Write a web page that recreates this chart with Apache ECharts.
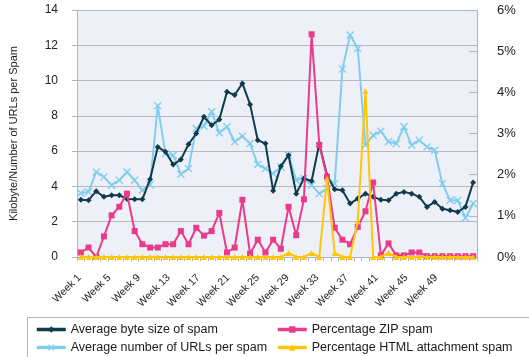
<!DOCTYPE html>
<html>
<head>
<meta charset="utf-8">
<script src="https://cdn.jsdelivr.net/npm/echarts@6/dist/echarts.min.js"></script>
<style>html,body{margin:0;padding:0;background:#fff;}#c{width:529px;height:357px;}</style>
</head>
<body>
<div id="c"></div>
<script>
var weeks = [];
for (var w = 1; w <= 52; w++) weeks.push('Week ' + w);

var leftTicks = [0, 2, 4, 6, 8, 10, 12, 14];
var rightTicks = ['0%', '1%', '2%', '3%', '4%', '5%', '6%'];

var avgByteSize = [3.25,3.22,3.73,3.41,3.5,3.5,3.29,3.27,3.27,4.41,
  6.24,5.96,5.24,5.52,6.39,7.0,7.95,7.47,7.79,9.36,
  9.18,9.84,8.65,6.62,6.43,3.75,5.15,5.77,3.59,4.45,
  4.31,6.43,4.63,3.84,3.78,3.03,3.31,3.59,3.41,3.25,
  3.22,3.59,3.69,3.59,3.41,2.84,3.12,2.74,2.65,2.55,2.84,4.22];

var avgUrls = [3.63,3.69,4.82,4.54,4.07,4.35,4.82,4.35,3.78,4.1,
  8.57,5.86,5.77,4.69,5.01,7.28,7.42,8.23,7.04,7.38,
  6.53,6.85,6.43,5.24,5.01,4.73,5.1,5.77,4.35,4.45,
  4.07,3.59,3.88,4.16,10.65,12.58,11.82,6.34,6.9,7.13,
  6.53,6.43,7.38,6.34,6.62,6.24,6.05,4.16,3.22,3.22,2.21,3.03];

var zipPct = [0.11,0.23,0,0.5,1.01,1.22,1.54,0.63,0.31,0.23,
  0.23,0.31,0.31,0.63,0.31,0.71,0.52,0.63,1.07,0.11,
  0.23,1.39,0.08,0.42,0.11,0.42,0.2,1.22,0.53,1.4,
  5.41,2.72,1.95,0.71,0.42,0.31,0.73,1.11,1.81,0.04,
  0.33,0.04,0.04,0.11,0.11,0.02,0.02,0.02,0.02,0.02,0.02,0.02];

var htmlPct = [0,0,0,0,0,0,0,0,0,0,
  0,0,0,0,0,0,0,0,0,0,
  0,0,0,0,0,0,0,0.1,0,0,
  0.1,0,1.9,0.1,0,0,0.87,4.03,0,0,
  0.1,0,0,0,0,0,0,0,0,0,0,0];

var names = ['Average byte size of spam', 'Average number of URLs per spam',
             'Percentage ZIP spam', 'Percentage HTML attachment spam'];

var cDark = '#0f3c4c', cLight = '#80cdef', cPink = '#ea3a8c', cYellow = '#fdc60c';
var xSym = 'path://M0,1.2L1.2,0L5,3.8L8.8,0L10,1.2L6.2,5L10,8.8L8.8,10L5,6.2L1.2,10L0,8.8L3.8,5Z';
var FONT = 'Liberation Sans, Arial, sans-serif';

function legendAt(name, left, top) {
  return {
    data: [name], left: left, top: top, orient: 'vertical',
    itemWidth: 29, itemHeight: 8, padding: 0, itemGap: 0,
    lineStyle: { width: 3.5 },
    selectedMode: false,
    textStyle: { fontFamily: FONT, fontSize: 12.5, color: '#1a1a1a' }
  };
}

var chart = echarts.init(document.getElementById('c'), null, { renderer: 'canvas' });
chart.setOption({
  animation: false,
  textStyle: { fontFamily: FONT },
  grid: [
    { left: 77, right: 52, top: 10, bottom: 100, show: true, backgroundColor: '#eef0f8', borderWidth: 0 },
    { left: 75.8, width: 386.2, top: 10, bottom: 100, show: false }
  ],
  graphic: [{
    type: 'rect', left: 25, top: 315, silent: true,
    shape: { width: 520, height: 60 },
    style: { fill: 'none', stroke: '#b4b4b4', lineWidth: 1 }
  }],
  legend: [
    legendAt(names[0], 35, 323),
    legendAt(names[1], 35, 341),
    legendAt(names[2], 276, 323),
    legendAt(names[3], 276, 341)
  ],
  xAxis: [{
    type: 'category', data: weeks, boundaryGap: true, gridIndex: 0,
    axisLine: { lineStyle: { color: '#b4b4b8', width: 1 } },
    axisTick: { show: true, interval: 0, length: 4, lineStyle: { color: '#b4b4b8' } },
    axisLabel: { show: false }
  }, {
    type: 'category', data: weeks, boundaryGap: true, gridIndex: 1,
    axisLine: { show: false }, axisTick: { show: false },
    axisLabel: { interval: 3, rotate: 45, fontSize: 10.5, color: '#222', margin: 19 }
  }],
  yAxis: [{
    type: 'value', min: 0, max: 14, interval: 2, gridIndex: 0,
    name: 'Kilobyte/Number of URLs per Spam', nameLocation: 'middle', nameGap: 58,
    nameTextStyle: { fontSize: 11, color: '#222' },
    axisLine: { show: true, lineStyle: { color: '#b4b4b8' } },
    axisTick: { show: true, length: 5, lineStyle: { color: '#b4b4b8' } },
    axisLabel: { fontSize: 12, color: '#222', margin: 19,
      formatter: function (v) { return leftTicks.indexOf(v) >= 0 ? String(v) : ''; } },
    splitLine: { show: true, lineStyle: { color: '#b8b8bc', width: 1 } }
  }, {
    type: 'value', min: 0, max: 6, interval: 1, position: 'right', gridIndex: 0,
    axisLine: { show: true, lineStyle: { color: '#b4b4b8' } },
    axisTick: { show: true, inside: true, length: 8, lineStyle: { color: '#b4b4b8' } },
    axisLabel: { fontSize: 13, color: '#222', margin: 20,
      formatter: function (v) { return rightTicks[v] || ''; } },
    splitLine: { show: false }
  }, {
    type: 'value', gridIndex: 1, show: false, min: 0, max: 14
  }],
  series: [{
    name: names[1], type: 'line', data: avgUrls, yAxisIndex: 0,
    symbol: xSym, symbolSize: 8, showAllSymbol: true,
    lineStyle: { color: cLight, width: 2 }, itemStyle: { color: cLight }, z: 2
  }, {
    name: names[0], type: 'line', data: avgByteSize, yAxisIndex: 0,
    symbol: 'diamond', symbolSize: 6, showAllSymbol: true,
    lineStyle: { color: cDark, width: 2 }, itemStyle: { color: cDark }, z: 3
  }, {
    name: names[2], type: 'line', data: zipPct, yAxisIndex: 1,
    symbol: 'rect', symbolSize: 6, showAllSymbol: true,
    lineStyle: { color: cPink, width: 2 }, itemStyle: { color: cPink }, z: 4
  }, {
    name: names[3], type: 'line', data: htmlPct, yAxisIndex: 1,
    symbol: 'triangle', symbolSize: 6, showAllSymbol: true,
    lineStyle: { color: cYellow, width: 2 }, itemStyle: { color: cYellow }, z: 5
  }]
});
</script>
</body>
</html>
